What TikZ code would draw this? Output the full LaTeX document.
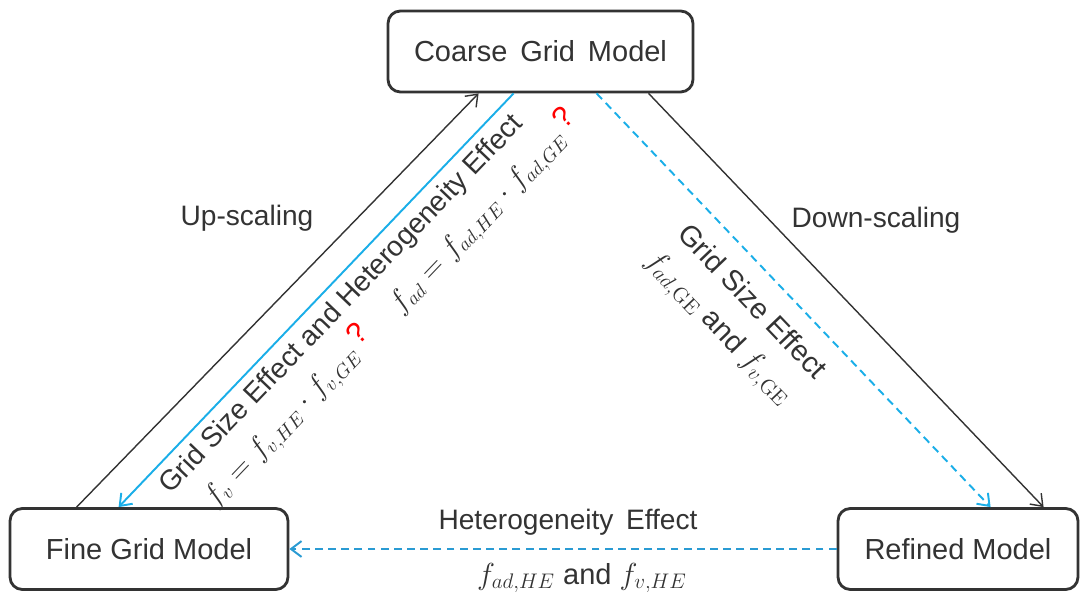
\documentclass[tikz,border=0pt]{standalone}
\usepackage[no-math]{fontspec}
\setmainfont{Liberation Sans}
\usepackage{xcolor}
\definecolor{Ink}{HTML}{333333}
\definecolor{Sky}{HTML}{1AAEE8}
\definecolor{SkyDark}{HTML}{2A9BD3}
\usetikzlibrary{arrows.meta}
\newcommand\qm{\raisebox{0.55ex}{\textcolor{red}{\fontsize{17}{17}\selectfont ?}}}

\begin{document}
\begin{tikzpicture}[
  x=0.02cm,y=-0.02cm,
  model/.style={draw=Ink,line width=1.6pt,rounded corners=7pt,minimum height=1.62cm,text=Ink,font=\fontsize{16.5}{20}\selectfont},
  lbl/.style={text=Ink,font=\fontsize{16}{19}\selectfont,inner sep=0pt},
  scalearrow/.style={-{Straight Barb[length=6pt,width=9pt]},draw=Ink,line width=0.8pt},
  effect/.style={-{Straight Barb[length=6pt,width=9pt]},draw=Sky,line width=1.1pt},
  effectdash/.style={effect,dash pattern=on 4.5pt off 3pt}
]
  \useasboundingbox (0,0) rectangle (1083,597);

  \node[model,minimum width=6.1cm] (coarse) at (540.5,51.5) {Coarse\, Grid\, Model};
  \node[model,minimum width=5.56cm] (fine) at (149,549) {Fine Grid Model};
  \node[model,minimum width=4.8cm] (refined) at (958,549) {Refined Model};

  \draw[scalearrow] ([xshift=1.36cm]fine.north west) -- ([xshift=1.84cm]coarse.south west);
  \draw[effect] ([xshift=2.54cm]coarse.south west) -- ([xshift=2.2cm]fine.north west);
  \draw[effectdash] ([xshift=4.2cm]coarse.south west) -- ([xshift=3.08cm]refined.north west);
  \draw[scalearrow] ([xshift=5.24cm]coarse.south west) -- ([xshift=4.14cm]refined.north west);
  \draw[effectdash,draw=SkyDark] (refined) -- (fine);

  \node[lbl] (up) at (247,218) {Up-scaling};
  \node[lbl] (down) at (876,220) {Down-scaling};
  \node[lbl,rotate=46.3] (mixlbl) at (342,305) {Grid Size Effect and Heterogeneity Effect};
  \node[lbl,rotate=46.3] (mixeq) at (391,309) {$f_v = f_{v,HE}\cdot f_{v,GE}$\,\qm\quad\ $f_{ad} = f_{ad,HE}\cdot f_{ad,GE}$\,\qm};
  \node[lbl,rotate=-46.3,font=\fontsize{16.5}{19}\selectfont] (gridlbl) at (753,301) {Grid Size Effect};
  \node[lbl,rotate=-46.3,font=\fontsize{16.5}{19}\selectfont] (grideq) at (718,329) {$f_{ad,\mathrm{GE}}$ and $f_{v,\mathrm{GE}}$};
  \node[lbl] (hetlbl) at (568,522) {Heterogeneity\, Effect};
  \node[lbl,font=\fontsize{16.5}{19}\selectfont] (heteq) at (582,578) {$f_{ad,HE}$ and $f_{v,HE}$};
\end{tikzpicture}
\end{document}
